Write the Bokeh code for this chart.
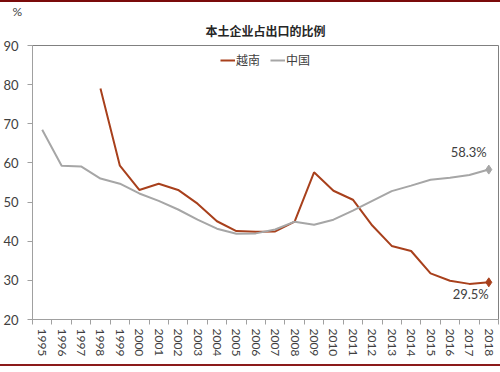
from bokeh.plotting import figure
from bokeh.models import (Range1d, FixedTicker, Legend, LegendItem, Label, Title)
from bokeh.embed import file_html
from bokeh.resources import INLINE

years = list(range(1995, 2019))
vietnam_years = list(range(1998, 2019))
vietnam = [79.0, 59.3, 53.1, 54.7, 53.1, 49.6, 45.1, 42.6, 42.4, 42.5, 45.0, 57.6,
           52.9, 50.6, 44.0, 38.8, 37.5, 31.8, 29.9, 29.1, 29.5]
china = [68.5, 59.3, 59.1, 56.0, 54.7, 52.2, 50.3, 48.1, 45.5, 43.2, 41.9, 42.0,
         43.0, 45.0, 44.2, 45.5, 47.8, 50.3, 52.8, 54.2, 55.7, 56.2, 56.9, 58.3]
y_ticks = [20, 30, 40, 50, 60, 70, 80, 90]
title_text = "本土企业占出口的比例"
unit_text = "%"
names = ["越南", "中国"]

RED = "#A8401C"
GRAY = "#A6A6A6"
TXT = "#404040"
CJK = "Noto Sans CJK SC"

p = figure(width=500, height=366, output_backend="svg", toolbar_location=None,
           x_range=Range1d(years[0] - 0.5, years[-1] + 0.5),
           y_range=Range1d(20, 90),
           min_border_left=29, min_border_right=2, min_border_top=43, min_border_bottom=49,
           styles={"border-top": "2px solid #7A0A0A", "border-bottom": "2px solid #8B1A1A"})
p.background_fill_color = "white"
p.border_fill_color = "white"
p.outline_line_color = "#808080"
p.outline_line_width = 1
p.grid.visible = False

lr = p.line(vietnam_years, vietnam, line_color=RED, line_width=2)
lc = p.line(years, china, line_color=GRAY, line_width=2)
p.scatter([vietnam_years[-1]], [vietnam[-1]], marker="diamond", size=9, color=RED)
p.scatter([years[-1]], [china[-1]], marker="diamond", size=9, color=GRAY)

xa = p.xaxis[0]
xa.ticker = FixedTicker(ticks=years, minor_ticks=[y - 0.5 for y in years] + [years[-1] + 0.5])
xa.major_tick_out = 0
xa.major_tick_in = 0
xa.minor_tick_out = 5
xa.minor_tick_in = 0
xa.minor_tick_line_color = "#A0A0A0"
xa.axis_line_color = "#A0A0A0"
xa.major_label_orientation = "vertical"
xa.major_label_text_font = "Lato"
xa.major_label_text_font_size = "12px"
xa.major_label_text_color = TXT
xa.major_label_standoff = 4

ya = p.yaxis[0]
ya.ticker = FixedTicker(ticks=y_ticks)
ya.minor_tick_line_color = None
ya.major_tick_out = 5
ya.major_tick_in = 0
ya.major_tick_line_color = "#A0A0A0"
ya.axis_line_color = "#A0A0A0"
ya.major_label_text_font = "Lato"
ya.major_label_text_font_size = "13px"
ya.major_label_text_color = TXT
ya.major_label_standoff = 9

# outer title: unit "%"
p.title.text = unit_text
p.title.align = "left"
p.title.offset = -20
p.title.text_font = "Lato"
p.title.text_font_size = "12px"
p.title.text_font_style = "normal"
p.title.text_color = TXT
p.title.standoff = -12

# inner title: chart title
p.add_layout(Title(text=title_text, align="center", text_font=CJK,
                   text_font_size="12px", text_font_style="bold", text_color="#262626",
                   standoff=14), "above")

legend = Legend(items=[LegendItem(label=names[0], renderers=[lr]),
                       LegendItem(label=names[1], renderers=[lc])],
                location="top_center", orientation="horizontal",
                border_line_color=None, background_fill_alpha=0,
                label_text_font=CJK, label_text_font_size="12px", label_text_color=TXT,
                glyph_width=15, glyph_height=10, label_standoff=1, spacing=10,
                margin=6, padding=2, label_height=12)
p.add_layout(legend)

p.add_layout(Label(x=years[-1], y=china[-1], text=f"{china[-1]}%", text_font="Lato",
                   text_font_size="13px", text_color=TXT, text_align="right",
                   x_offset=-2, y_offset=10))
p.add_layout(Label(x=years[-1], y=vietnam[-1], text=f"{vietnam[-1]}%", text_font="Lato",
                   text_font_size="13px", text_color=TXT, text_align="right",
                   x_offset=0, y_offset=-20))

open("out.html", "w").write(file_html(p, INLINE))
